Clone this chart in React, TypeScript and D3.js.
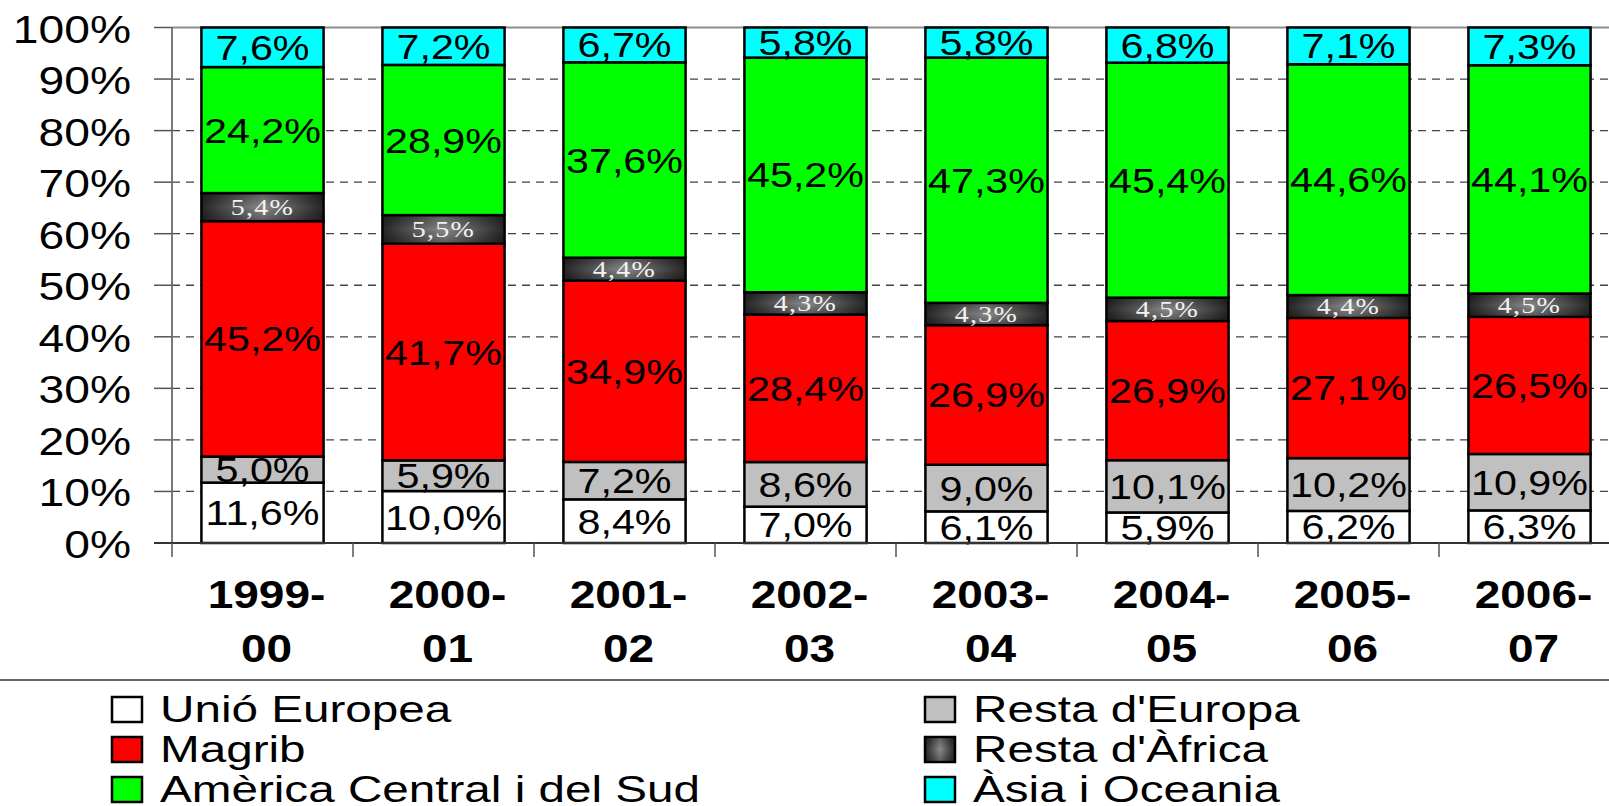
import React from 'react';
import * as d3 from 'd3';

const periods = ["1999-00", "2000-01", "2001-02", "2002-03", "2003-04", "2004-05", "2005-06", "2006-07"];
const seriesNames = ["Unió Europea", "Resta d'Europa", "Magrib", "Resta d'Àfrica", "Amèrica Central i del Sud", "Àsia i Oceania"];
const uniEuropea = [11.6, 10.0, 8.4, 7.0, 6.1, 5.9, 6.2, 6.3];
const restaEuropa = [5.0, 5.9, 7.2, 8.6, 9.0, 10.1, 10.2, 10.9];
const magrib = [45.2, 41.7, 34.9, 28.4, 26.9, 26.9, 27.1, 26.5];
const restaAfrica = [5.4, 5.5, 4.4, 4.3, 4.3, 4.5, 4.4, 4.5];
const america = [24.2, 28.9, 37.6, 45.2, 47.3, 45.4, 44.6, 44.1];
const asia = [7.6, 7.2, 6.7, 5.8, 5.8, 6.8, 7.1, 7.3];
const fills = ["#ffffff", "#c0c0c0", "#ff0000", "url(#darkH)", "#00ff00", "#00ffff"];

const W = 1609;
const H = 806;
const left = 172;
const right = 1620;
const top = 27.5;
const bottom = 543;

const allSeries = [uniEuropea, restaEuropa, magrib, restaAfrica, america, asia];
const rows = periods.map((p, i) => {
  const r: any = { period: p };
  seriesNames.forEach((s, k) => { r[s] = allSeries[k][i]; });
  return r;
});

const fmt = (v: number) => v.toFixed(1).replace(".", ",") + "%";

export default function App() {
  const x = d3.scaleBand().domain(periods).range([left, right]).paddingInner(0.325).paddingOuter(0.1625);
  const y = d3.scaleLinear().domain([0, 1]).range([bottom, top]);
  const stack = d3.stack().keys(seriesNames).offset(d3.stackOffsetExpand);
  const layers = stack(rows);
  const step = x.step();
  const yTicks = y.ticks(10);

  return (
    <svg width={W} height={H} style={{ position: 'absolute', left: 0, top: 0, background: '#fff' }}
      fontFamily="'Liberation Sans', Arial, sans-serif">
      <defs>
        <linearGradient id="darkH" x1="0" x2="1" y1="0" y2="0">
          <stop offset="0" stopColor="#262626" />
          <stop offset="0.5" stopColor="#8a8a8a" />
          <stop offset="1" stopColor="#262626" />
        </linearGradient>
        <linearGradient id="darkV" x1="0" x2="0" y1="0" y2="1">
          <stop offset="0" stopColor="#000" stopOpacity="0.3" />
          <stop offset="0.5" stopColor="#000" stopOpacity="0" />
          <stop offset="1" stopColor="#000" stopOpacity="0.3" />
        </linearGradient>
      </defs>

      {/* gridlines */}
      {yTicks.filter(t => t > 0 && t < 1).map(t => (
        <line key={t} x1={left} x2={right} y1={y(t)} y2={y(t)} stroke="#444" strokeWidth={1.3} strokeDasharray="8,6" />
      ))}
      <line x1={left} x2={right} y1={y(1)} y2={y(1)} stroke="#8c8c8c" strokeWidth={2} />

      {/* y axis */}
      <line x1={left} x2={left} y1={top} y2={bottom} stroke="#7a7a7a" strokeWidth={2} />
      {yTicks.map(t => (
        <g key={t}>
          <line x1={154} x2={left} y1={y(t)} y2={y(t)} stroke="#555" strokeWidth={1.5} />
          <text transform={`translate(131,${y(t) + 15}) scale(1.17,1)`} textAnchor="end" fontSize={39.5} fill="#000">
            {d3.format(".0%")(t)}
          </text>
        </g>
      ))}

      {/* bars */}
      {layers.map((layer, k) => (
        <g key={layer.key}>
          {layer.map((d, i) => {
            const bw = x.bandwidth();
            const bx = x(periods[i])!;
            const y0 = y(d[0]);
            const y1 = y(d[1]);
            return (
              <g key={i}>
                <rect x={bx} y={y1} width={bw} height={y0 - y1} fill={fills[k]} stroke="#000" strokeWidth={2.5} />
                {k === 3 && <rect x={bx + 1.25} y={y1 + 1.25} width={bw - 2.5} height={y0 - y1 - 2.5} fill="url(#darkV)" />}
              </g>
            );
          })}
        </g>
      ))}

      {/* data labels */}
      {layers.map((layer, k) => layer.map((d, i) => {
        const cx = x(periods[i])! + x.bandwidth() / 2;
        const cy = (y(d[0]) + y(d[1])) / 2;
        const v = allSeries[k][i];
        if (k === 3) {
          return (
            <text key={layer.key + i} transform={`translate(${cx},${cy + 8}) scale(1.22,1)`} textAnchor="middle"
              fontFamily="'Liberation Serif', 'Times New Roman', serif" fontSize={23} fill="#f2f2f2" letterSpacing={1}>
              {fmt(v)}
            </text>
          );
        }
        return (
          <text key={layer.key + i} transform={`translate(${cx},${cy + 12.5}) scale(1.18,1)`} textAnchor="middle"
            fontSize={35} fill="#000">
            {fmt(v)}
          </text>
        );
      }))}

      {/* x axis */}
      <line x1={154} x2={right} y1={bottom} y2={bottom} stroke="#333" strokeWidth={2} />
      {periods.map((p, i) => (
        <line key={p} x1={left + i * step} x2={left + i * step} y1={bottom} y2={557} stroke="#555" strokeWidth={1.5} />
      ))}
      {periods.map(p => {
        const [a, b] = p.split("-");
        const cx = x(p)! + x.bandwidth() / 2 + 4;
        return (
          <g key={p} fontWeight="bold" fontSize={39}>
            <text transform={`translate(${cx},608) scale(1.18,1)`} textAnchor="middle">{a + "-"}</text>
            <text transform={`translate(${cx},662) scale(1.18,1)`} textAnchor="middle">{b}</text>
          </g>
        );
      })}

      {/* separator */}
      <line x1={0} x2={W} y1={680} y2={680} stroke="#666" strokeWidth={2} />

      {/* legend */}
      {seriesNames.map((s, k) => {
        const col = k % 2;
        const row = Math.floor(k / 2);
        const bx = col === 0 ? 112 : 925;
        const by = 697 + row * 40;
        return (
          <g key={s}>
            <rect x={bx} y={by} width={30} height={25} fill={fills[k]} stroke="#000" strokeWidth={2.5} />
            {k === 3 && <rect x={bx + 1.25} y={by + 1.25} width={27.5} height={22.5} fill="url(#darkV)" />}
            <text transform={`translate(${bx + 48},${by + 25}) scale(1.27,1)`} fontSize={37.5} fill="#000">{s}</text>
          </g>
        );
      })}
    </svg>
  );
}
